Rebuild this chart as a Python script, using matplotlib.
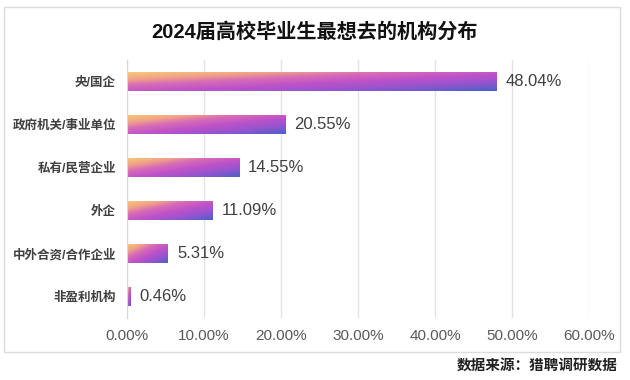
import matplotlib
matplotlib.use("Agg")
import matplotlib.pyplot as plt
import numpy as np
from matplotlib.colors import LinearSegmentedColormap
from matplotlib.patches import Rectangle

plt.rcParams["font.family"] = ["Liberation Sans", "Noto Sans CJK SC", "DejaVu Sans"]

categories = ["央/国企", "政府机关/事业单位", "私有/民营企业", "外企", "中外合资/合作企业", "非盈利机构"]
values = [48.04, 20.55, 14.55, 11.09, 5.31, 0.46]
value_labels = ["48.04%", "20.55%", "14.55%", "11.09%", "5.31%", "0.46%"]
xticks = [0, 10, 20, 30, 40, 50, 60]
xtick_labels = ["0.00%", "10.00%", "20.00%", "30.00%", "40.00%", "50.00%", "60.00%"]

title = "2024届高校毕业生最想去的机构分布"
source = "数据来源：猎聘调研数据"

# orange (top-left) -> pink -> magenta -> blue (bottom-right)
cmap = LinearSegmentedColormap.from_list(
    "bar_grad",
    [(0.0, "#f7c878"), (0.2, "#f0a088"), (0.35, "#d86cb6"),
     (0.55, "#bf52c8"), (0.78, "#9354d0"), (1.0, "#4a62c4")],
)

fig = plt.figure(figsize=(6.3, 3.8), dpi=100)
ax = fig.add_axes([127 / 630, 62 / 380, 462 / 630, 258 / 380])

# frame around the chart
fig.patches.append(Rectangle((4 / 630, 28 / 380), 616 / 630, 345 / 380,
                             transform=fig.transFigure, fill=False,
                             edgecolor="#dcdcdc", linewidth=1.0))

ypos = np.arange(len(categories))
height = 0.42
bars = ax.barh(ypos, values, height=height, color="none", edgecolor="none", zorder=2)

# gradient fill per bar, clipped to the bar
nx, ny = 200, 30
u = np.linspace(0, 1, nx)[None, :]
v = np.linspace(0, 1, ny)[:, None]
grad = (u + v) / 2
for bar, val in zip(bars, values):
    y0 = bar.get_y()
    im = ax.imshow(grad, cmap=cmap, vmin=0, vmax=1, aspect="auto",
                   extent=(0, val, y0 + height, y0), origin="upper",
                   interpolation="bilinear", zorder=2)
    im.set_clip_path(bar)

for y, val, lab in zip(ypos, values, value_labels):
    ax.annotate(lab, (val, y), xytext=(6.5, 0), textcoords="offset points",
                ha="left", va="center", fontsize=12, color="#404040")

ax.set_xlim(0, 60)
ax.set_ylim(len(categories) - 0.5, -0.5)
ax.set_xticks(xticks)
ax.set_xticklabels(xtick_labels, fontsize=11, color="#595959")
ax.set_yticks(ypos)
ax.set_yticklabels(categories, fontsize=9, color="#404040", fontweight="bold")
ax.tick_params(axis="x", length=0, pad=8)
ax.tick_params(axis="y", length=0, pad=8)
ax.grid(axis="x", color="#e3e3e3", linewidth=1.0, zorder=0)
ax.set_axisbelow(True)
for side in ["top", "right", "bottom"]:
    ax.spines[side].set_visible(False)
ax.spines["left"].set_color("#d6d6d6")

fig.text(0.5, 1 - 32 / 380, title, ha="center", va="center",
         fontsize=14.5, fontweight="bold", color="#111111")
fig.text(618 / 630, 14 / 380, source, ha="right", va="center",
         fontsize=10.5, fontweight="bold", color="#222222")

fig.savefig("out.png", dpi=100)
